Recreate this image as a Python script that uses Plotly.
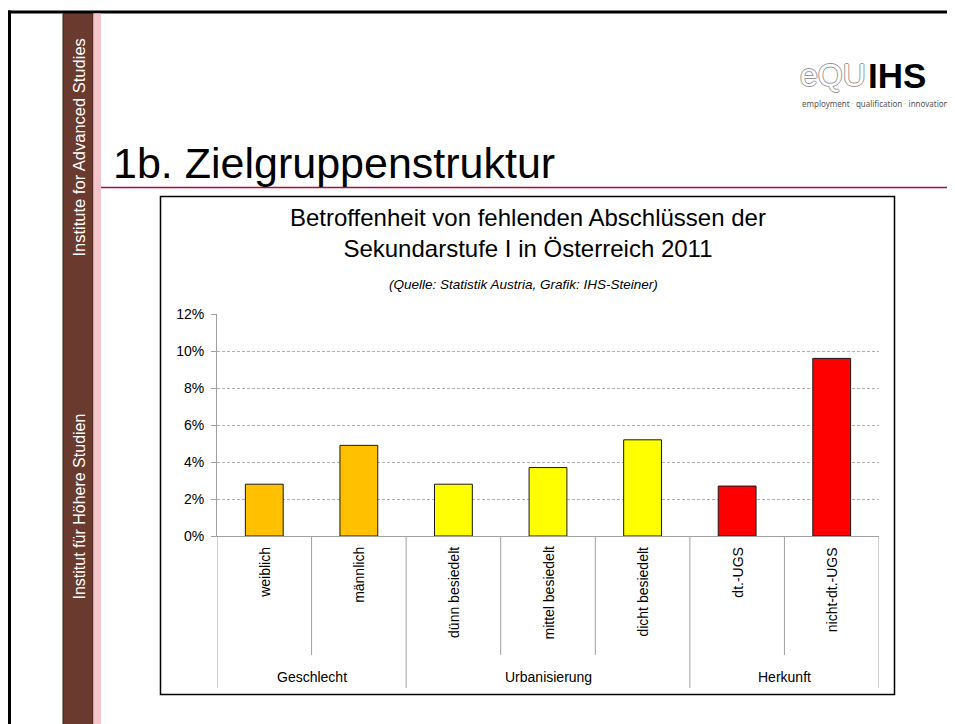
import plotly.graph_objects as go

# ---------------- data ----------------
categories = ["weiblich", "männlich", "dünn besiedelt", "mittel besiedelt",
              "dicht besiedelt", "dt.-UGS", "nicht-dt.-UGS"]
values = [0.028, 0.049, 0.028, 0.037, 0.052, 0.027, 0.096]
groups = ["Geschlecht", "Urbanisierung", "Herkunft"]
group_sizes = [2, 3, 2]
group_colors = ["#FFC000", "#FFFF00", "#FF0000"]
y_tickvals = [0, 0.02, 0.04, 0.06, 0.08, 0.10, 0.12]
y_ticktext = ["0%", "2%", "4%", "6%", "8%", "10%", "12%"]

chart_title = "Betroffenheit von fehlenden Abschlüssen der<br>Sekundarstufe I in Österreich 2011"
chart_source = "(Quelle: Statistik Austria, Grafik: IHS-Steiner)"
slide_title = "1b. Zielgruppenstruktur"
side_top = "Institute for Advanced Studies"
side_bottom = "Institut für Höhere Studien"
tagline = ("employment <span style='color:#c0c0c0'>·</span> qualification "
           "<span style='color:#c0c0c0'>·</span> innovation")

bar_colors = []
for c, n in zip(group_colors, group_sizes):
    bar_colors += [c] * n

# ---------------- geometry (page pixels; page body has an 8px margin) ----------------
OFF = 8
PAGE_W, PAGE_H = 955, 724
W, H = PAGE_W - OFF, PAGE_H - OFF
L, R, T, B = 217, 879, 314, 536   # plot area in page pixels


def fx(x):
    return (x - L) / (R - L)


def fy(y):
    return (B - y) / (B - T)


FONT = "Liberation Sans, Arial, sans-serif"

fig = go.Figure(go.Bar(
    x=list(range(len(categories))), y=values, width=0.4,
    marker=dict(color=bar_colors, line=dict(color="#1a1a1a", width=1)),
    hoverinfo="skip",
))

shapes = []
ann = []

# outer slide frame (top + left)
shapes.append(dict(type="line", xref="paper", yref="paper", x0=fx(8), x1=fx(PAGE_W + 5), y0=fy(12), y1=fy(12),
                   line=dict(color="black", width=3)))
shapes.append(dict(type="line", xref="paper", yref="paper", x0=fx(9.5), x1=fx(9.5), y0=fy(10.5), y1=fy(PAGE_H + 5),
                   line=dict(color="black", width=3)))
# sidebar
shapes.append(dict(type="rect", xref="paper", yref="paper", x0=fx(63), x1=fx(93), y0=fy(13.5), y1=fy(PAGE_H + 5),
                   fillcolor="#6B3A2F", line=dict(color="#3a1e17", width=1)))
shapes.append(dict(type="rect", xref="paper", yref="paper", x0=fx(93.5), x1=fx(101), y0=fy(13.5), y1=fy(PAGE_H + 5),
                   fillcolor="#F4C3CC", line=dict(width=0)))
# red line under title
shapes.append(dict(type="line", xref="paper", yref="paper", x0=fx(101), x1=fx(PAGE_W + 5), y0=fy(187.5), y1=fy(187.5),
                   line=dict(color="#B5083F", width=1.3)))
# chart box
shapes.append(dict(type="rect", xref="paper", yref="paper", x0=fx(160.5), x1=fx(894.5), y0=fy(196.5), y1=fy(694.5),
                   line=dict(color="black", width=1.5), layer="below"))

# category separators
boundaries = [-0.5]
for n in group_sizes:
    boundaries.append(boundaries[-1] + n)
for i in range(len(categories) + 1):
    xpos = i - 0.5
    long = xpos in boundaries
    shapes.append(dict(type="line", xref="x", yref="paper", x0=xpos, x1=xpos,
                       y0=0, y1=fy(688 if long else 655),
                       line=dict(color="#a0a0a0", width=1)))

# category labels
for i, c in enumerate(categories):
    ann.append(dict(x=i, xref="x", y=fy(545), yref="paper", text=c, textangle=-90,
                    showarrow=False, xanchor="center", yanchor="top",
                    font=dict(family=FONT, size=14, color="black")))
# group labels
for gi, g in enumerate(groups):
    cx = (boundaries[gi] + boundaries[gi + 1]) / 2
    ann.append(dict(x=cx, xref="x", y=fy(677), yref="paper", text=g, showarrow=False,
                    xanchor="center", yanchor="middle",
                    font=dict(family=FONT, size=14, color="black")))

# chart titles
ann.append(dict(x=fx(528), y=fy(233), xref="paper", yref="paper", text=chart_title, showarrow=False,
                xanchor="center", yanchor="middle", align="center",
                font=dict(family=FONT, size=24, color="black")))
ann.append(dict(x=fx(523), y=fy(284), xref="paper", yref="paper", text="<i>" + chart_source + "</i>",
                showarrow=False, xanchor="center", yanchor="middle",
                font=dict(family=FONT, size=13.5, color="black")))

# slide title
ann.append(dict(x=fx(111), y=fy(163), xref="paper", yref="paper", text=slide_title, showarrow=False,
                xanchor="left", yanchor="middle",
                font=dict(family=FONT, size=43, color="black")))

# sidebar texts
ann.append(dict(x=fx(78.5), y=fy(148), xref="paper", yref="paper", text=side_top, textangle=-90,
                showarrow=False, xanchor="center", yanchor="middle",
                font=dict(family=FONT, size=16.5, color="white")))
ann.append(dict(x=fx(78.5), y=fy(507), xref="paper", yref="paper", text=side_bottom, textangle=-90,
                showarrow=False, xanchor="center", yanchor="middle",
                font=dict(family=FONT, size=16, color="white")))

# logo
ann.append(dict(x=fx(868), y=fy(75), xref="paper", yref="paper", text="eQU", showarrow=False,
                xanchor="right", yanchor="middle",
                font=dict(family=FONT, size=32, color="white",
                          shadow="1px 0 0 #999999, -1px 0 0 #999999, 0 1px 0 #999999, 0 -1px 0 #999999")))
ann.append(dict(x=fx(866), y=fy(75), xref="paper", yref="paper", text="<b>IHS</b>", showarrow=False,
                xanchor="left", yanchor="middle",
                font=dict(family=FONT, size=35, color="black")))
ann.append(dict(x=fx(951), y=fy(104), xref="paper", yref="paper", text=tagline, showarrow=False,
                xanchor="right", yanchor="middle",
                font=dict(family="Noto Sans, sans-serif", size=8, color="#555555")))

fig.update_layout(
    width=W, height=H, autosize=False,
    margin=dict(l=L - OFF, r=W - (R - OFF), t=T - OFF, b=H - (B - OFF), pad=0, autoexpand=False),
    paper_bgcolor="white", plot_bgcolor="white",
    showlegend=False,
    shapes=shapes, annotations=ann,
    font=dict(family=FONT, color="black"),
    xaxis=dict(range=[-0.5, len(categories) - 0.5], showticklabels=False, ticks="",
               showline=True, linecolor="#a0a0a0", linewidth=1, showgrid=False, zeroline=False,
               fixedrange=True),
    yaxis=dict(range=[0, 0.12], tickvals=y_tickvals, ticktext=y_ticktext,
               showgrid=True, gridcolor="#b0b0b0", griddash="3px,2px", gridwidth=1,
               showline=True, linecolor="#a0a0a0", linewidth=1,
               ticks="outside", ticklen=5, tickcolor="#a0a0a0", ticklabelstandoff=4,
               tickfont=dict(family=FONT, size=14, color="black"),
               zeroline=False, fixedrange=True),
)

fig.write_html("out.html", config={"displayModeBar": False})
